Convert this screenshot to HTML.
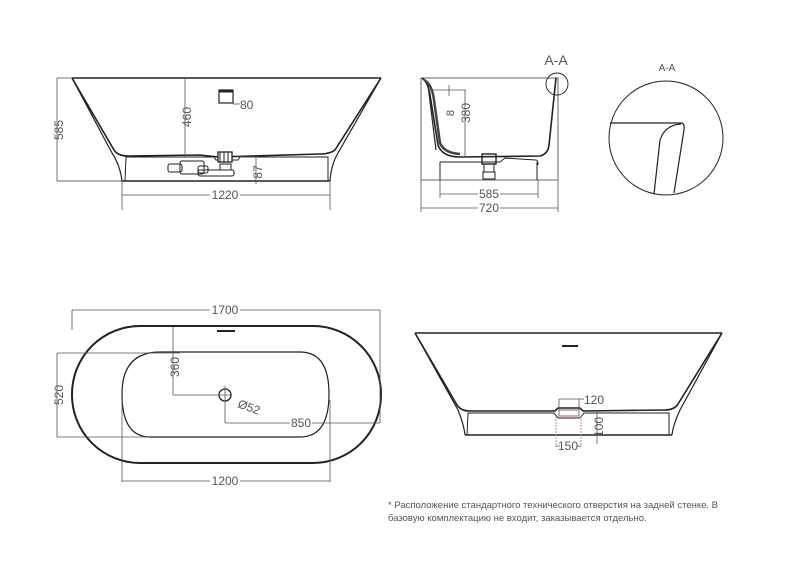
<!DOCTYPE html>
<html><head><meta charset="utf-8"><style>
html,body{margin:0;padding:0;background:#fff;}
svg{display:block;}
text{font-family:"Liberation Sans","DejaVu Sans",sans-serif;fill:#555;}
</style></head><body>
<svg width="804" height="572" viewBox="0 0 804 572" xmlns="http://www.w3.org/2000/svg">
<g fill="none" stroke="#222" stroke-width="1">
<!-- Front view top-left -->
<line x1="72" y1="78" x2="381" y2="78" stroke-width="1.4"/>
<path d="M72,78 L114,150 Q118,156 128,156 L200,155 L218,157 L320,154 Q330,154 335,150 L381,78" stroke-width="1.6"/>
<path d="M72,78 L112,153 Q120,165 122,181" stroke-width="1.2"/>
<path d="M381,78 L338,153 Q331,165 330,181" stroke-width="1.2"/>
<path d="M125,181 L126,157 L214,157 L216,160 L238,160 L240,157 L328,157 L328,181" stroke-width="1"/>
<line x1="122" y1="181" x2="330" y2="181" stroke-width="1.4"/>
<line x1="57" y1="181" x2="122" y2="181" stroke="#666"/>
<rect x="219" y="90" width="14" height="13" stroke-width="1.2"/>
<rect x="219" y="90" width="14" height="2" fill="#222"/>
<rect x="218" y="152" width="14" height="10" stroke-width="1.3" fill="#fff"/>
<line x1="220" y1="152" x2="220" y2="162"/><line x1="224" y1="152" x2="224" y2="162"/><line x1="228" y1="152" x2="228" y2="162"/>
<rect x="220" y="164" width="11" height="6"/>
<rect x="198" y="170" width="36" height="6" rx="2"/>
<rect x="168" y="164" width="14" height="8" rx="2"/>
<rect x="180" y="161" width="24" height="13" rx="2"/>
<rect x="198" y="166" width="10" height="7" rx="2"/>
</g>
<g stroke="#555" stroke-width="0.8" fill="none">
<line x1="57" y1="78" x2="72" y2="78"/><line x1="57" y1="78" x2="57" y2="181"/>
<line x1="185" y1="78" x2="185" y2="157"/>
<line x1="122" y1="181" x2="122" y2="210"/><line x1="330" y1="181" x2="330" y2="210"/>
<line x1="122" y1="195" x2="210" y2="195"/><line x1="240" y1="195" x2="330" y2="195"/>
<line x1="233" y1="104" x2="240" y2="104"/>
<line x1="256" y1="157" x2="256" y2="184"/><line x1="238" y1="157" x2="258" y2="157"/>
</g>
<text x="63" y="130" font-size="12" transform="rotate(-90 63 130)" text-anchor="middle">585</text>
<text x="191" y="117" font-size="12" transform="rotate(-90 191 117)" text-anchor="middle">460</text>
<text x="240" y="109" font-size="12">80</text>
<text x="225" y="199" font-size="12" text-anchor="middle">1220</text>
<text x="262" y="172" font-size="12" transform="rotate(-90 262 172)" text-anchor="middle">87</text>

<!-- Side view -->
<g fill="none" stroke="#222">
<rect x="421" y="78" width="137" height="102" stroke="#555" stroke-width="0.9"/>
<path d="M422,78 Q428,82 430,95 L438,145 Q442,157 460,157 L540,156 Q548,154 549,145 L556,78" stroke-width="1.6"/>
<path d="M424,80 Q432,84 434,100 L440,143 Q444,153 460,154" stroke-width="2.5" stroke="#444"/>
<path d="M428,85 L436,150" stroke-width="1.2"/>
<path d="M440,162 L500,162 L505,158 L536,160 Q538,160 538,165" stroke-width="1"/>
<line x1="440" y1="162" x2="440" y2="180"/><line x1="537" y1="162" x2="537" y2="180"/>
<rect x="482" y="154" width="14" height="10" stroke-width="1.4"/>
<rect x="484" y="164" width="10" height="8"/>
<rect x="483" y="172" width="12" height="7"/>
<circle cx="557" cy="84" r="11" stroke-width="0.9"/>
</g>
<g stroke="#555" stroke-width="0.8" fill="none">
<line x1="428" y1="90" x2="466" y2="90"/><line x1="449" y1="85" x2="449" y2="96"/>
<line x1="465" y1="90" x2="465" y2="157"/>
<line x1="421" y1="180" x2="421" y2="212"/><line x1="558" y1="180" x2="558" y2="212"/>
<line x1="440" y1="180" x2="440" y2="198"/><line x1="538" y1="180" x2="538" y2="198"/>
<line x1="440" y1="194" x2="478" y2="194"/><line x1="500" y1="194" x2="538" y2="194"/>
<line x1="421" y1="208" x2="478" y2="208"/><line x1="500" y1="208" x2="558" y2="208"/>
</g>
<text x="454" y="113" font-size="11" transform="rotate(-90 454 113)" text-anchor="middle">8</text>
<text x="470" y="113" font-size="12" transform="rotate(-90 470 113)" text-anchor="middle">380</text>
<text x="489" y="198" font-size="12" text-anchor="middle">585</text>
<text x="489" y="212" font-size="12" text-anchor="middle">720</text>
<text x="556" y="65" font-size="14" text-anchor="middle" fill="#333">A-A</text>

<!-- Detail circle -->
<circle cx="666" cy="138" r="57" fill="none" stroke="#222" stroke-width="1"/>
<text x="667" y="71" font-size="10" text-anchor="middle" fill="#444">A-A</text>
<g fill="none" stroke="#222" stroke-width="1.2">
<line x1="610" y1="123" x2="681" y2="123"/>
<path d="M681,123 Q685,123 684,130 L674,193"/>
<path d="M681,124 Q665,125 660,140 L654,194"/>
</g>

<!-- Top view -->
<g fill="none" stroke="#222">
<rect x="72" y="326" width="309" height="137" rx="68" ry="68" stroke-width="2"/>
<path d="M160,352 L300,352 Q329,352 329,394 Q329,437 300,437 L150,437 Q122,437 122,394 Q122,352 160,352 Z" stroke-width="1.2"/>
<circle cx="225" cy="395" r="6" stroke-width="1.3"/>
<line x1="217" y1="331" x2="235" y2="331" stroke-width="2"/>
</g>
<g stroke="#555" stroke-width="0.8" fill="none">
<line x1="72" y1="310" x2="72" y2="330"/><line x1="380" y1="310" x2="380" y2="423"/>
<line x1="72" y1="310" x2="210" y2="310"/><line x1="240" y1="310" x2="380" y2="310"/>
<line x1="57" y1="353" x2="180" y2="353"/><line x1="57" y1="437" x2="150" y2="437"/>
<line x1="57" y1="353" x2="57" y2="437"/>
<line x1="173" y1="327" x2="173" y2="395"/><line x1="173" y1="395" x2="232" y2="395"/>
<line x1="225" y1="386" x2="225" y2="423"/><line x1="225" y1="423" x2="290" y2="423"/><line x1="312" y1="423" x2="380" y2="423"/>
<line x1="122" y1="400" x2="122" y2="482"/><line x1="330" y1="400" x2="330" y2="482"/>
<line x1="122" y1="481" x2="210" y2="481"/><line x1="240" y1="481" x2="330" y2="481"/>
</g>
<text x="225" y="314" font-size="12" text-anchor="middle">1700</text>
<text x="63" y="395" font-size="12" transform="rotate(-90 63 395)" text-anchor="middle">520</text>
<text x="179" y="367" font-size="12" transform="rotate(-90 179 367)" text-anchor="middle">360</text>
<text x="237" y="407" font-size="12" transform="rotate(20 237 407)">Ø52</text>
<text x="301" y="427" font-size="12" text-anchor="middle">850</text>
<text x="225" y="485" font-size="12" text-anchor="middle">1200</text>

<!-- Front view bottom-right -->
<g fill="none" stroke="#222">
<line x1="415" y1="333" x2="722" y2="333" stroke-width="1.4"/>
<path d="M415,333 L457,405 Q461,411 470,411 L555,411 L558,408 L580,408 L583,411 L665,410 Q674,410 678,404 L722,333" stroke-width="1.6"/>
<path d="M415,333 L458,410 Q464,425 465,435" stroke-width="1.2"/>
<path d="M722,333 L680,410 Q673,425 672,435" stroke-width="1.2"/>
<path d="M467,435 L468,413 L554,413 L558,418 L580,418 L584,413 L669,413 L669,435" stroke-width="1"/>
<line x1="465" y1="435" x2="672" y2="435" stroke-width="1.4"/>
<line x1="562" y1="346" x2="578" y2="346" stroke-width="2"/>
<rect x="559" y="410" width="20" height="6" stroke="#a77" stroke-width="1.2"/>
</g>
<g stroke="#555" stroke-width="0.8" fill="none">
<line x1="559" y1="399" x2="579" y2="399"/><line x1="559" y1="399" x2="559" y2="410"/><line x1="579" y1="399" x2="579" y2="410"/>
<line x1="579" y1="399" x2="584" y2="399"/>
<line x1="556" y1="416" x2="556" y2="447" stroke="#a77" stroke-dasharray="2,1"/>
<line x1="581" y1="416" x2="581" y2="447" stroke="#a77" stroke-dasharray="2,1"/>
<line x1="556" y1="446" x2="560" y2="446"/><line x1="577" y1="446" x2="581" y2="446"/>
<line x1="597" y1="411" x2="597" y2="444"/>
</g>
<text x="584" y="404" font-size="12">120</text>
<text x="603" y="427" font-size="12" transform="rotate(-90 603 427)" text-anchor="middle">100</text>
<text x="568" y="450" font-size="12" text-anchor="middle">150</text>

<text x="388" y="508" font-size="9.5" fill="#333">* Расположение стандартного технического отверстия на задней стенке. В</text>
<text x="388" y="521" font-size="9.5" fill="#333">базовую комплектацию не входит, заказывается отдельно.</text>
</svg>
</body></html>
